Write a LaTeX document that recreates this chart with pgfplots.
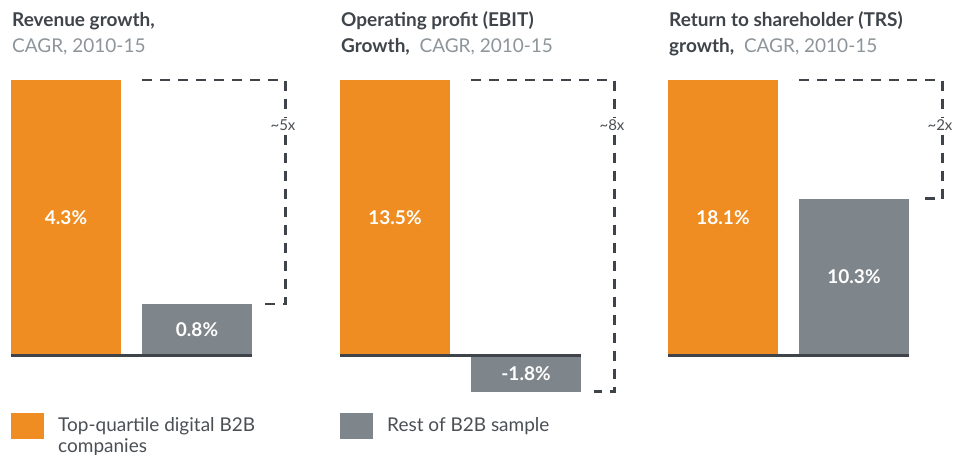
\documentclass[border=0pt]{standalone}
\usepackage{fontspec}
\setmainfont{Lato}
\usepackage{pgfplots}
\pgfplotsset{compat=1.18}
\definecolor{bOrange}{HTML}{F08D22}
\definecolor{bGray}{HTML}{7F868B}
\definecolor{bDark}{HTML}{3E4449}
\definecolor{bSub}{HTML}{8D959A}
\definecolor{bText}{HTML}{4A4F54}
\newcommand\tfont{\fontsize{19}{25}\selectfont}
\newcommand\lfont{\fontsize{19}{19}\selectfont\bfseries}
\newcommand\mfont{\fontsize{15}{15}\selectfont}
\pgfplotsset{
  panel/.style={x=1pt, xmin=0, xmax=300, hide axis, clip=false, anchor=origin,
    legend image code/.code={\fill[##1] (0pt,-7pt) rectangle (33pt,19pt);},
    legend style={draw=none, fill=none, inner sep=0pt, anchor=north west,
      font=\tfont, text=bText, legend cell align=left}},
  obar/.style={ybar, bar width=110, bar shift=0pt, fill=bOrange, draw=none},
  gbar/.style={ybar, bar width=110, bar shift=0pt, fill=bGray, draw=none},
  bracket/.style={sharp plot, draw=bDark, line width=2.4pt, dash pattern=on 10pt off 8pt, mark=none, forget plot},
}
\begin{document}
\begin{tikzpicture}
\path[use as bounding box] (0,0) rectangle (956pt,-455pt);
% Panel 1
\begin{axis}[panel, at={(0pt,-355pt)}, y={275pt/4.3}, ymin=-0.8, ymax=4.6,
  legend style={at={(axis cs:11,-0.907)}}]
\addplot[obar] coordinates {(66,4.3)};
\addlegendentry{\hspace*{12pt}\smash{\rlap{\raisebox{-21pt}{companies}}Top-quartile digital B2B}}
\addplot[gbar, forget plot] coordinates {(197,0.8)};
\addplot[bracket] coordinates {(142,4.3) (285.5,4.3) (285.5,0.8) (265,0.8)};
\draw[bDark, line width=3pt] (axis cs:11,0) -- (axis cs:252,0);
\node[text=white, font=\lfont] at (axis cs:66,2.15) {4.3\%};
\node[text=white, font=\lfont] at (axis cs:197,0.4) {0.8\%};
\node[fill=white, inner sep=1.5pt, text=bText, font=\mfont] at (axis cs:283,3.596) {\textasciitilde 5x};
\end{axis}
% Panel 2
\begin{axis}[panel, at={(329pt,-355pt)}, y={275pt/13.5}, ymin=-2.6, ymax=14.5,
  legend style={at={(axis cs:11,-2.85)}}]
\addplot[obar, forget plot] coordinates {(66,13.5)};
\addplot[gbar] coordinates {(197,-1.8)};
\addlegendentry{\hspace*{12pt}\smash{Rest of B2B sample}}
\addplot[bracket] coordinates {(142,13.5) (285.5,13.5) (285.5,-1.8) (265,-1.8)};
\draw[bDark, line width=3pt] (axis cs:11,0) -- (axis cs:252,0);
\node[text=white, font=\lfont] at (axis cs:66,6.75) {13.5\%};
\node[text=white, font=\lfont] at (axis cs:197,-0.9) {-1.8\%};
\node[fill=white, inner sep=1.5pt, text=bText, font=\mfont] at (axis cs:283,11.29) {\textasciitilde 8x};
\end{axis}
% Panel 3
\begin{axis}[panel, at={(657pt,-355pt)}, y={275pt/18.1}, ymin=-3, ymax=19.5]
\addplot[obar, forget plot] coordinates {(66,18.1)};
\addplot[gbar, forget plot] coordinates {(197,10.3)};
\addplot[bracket] coordinates {(142,18.1) (285.5,18.1) (285.5,10.3) (265,10.3)};
\draw[bDark, line width=3pt] (axis cs:11,0) -- (axis cs:252,0);
\node[text=white, font=\lfont] at (axis cs:66,9.05) {18.1\%};
\node[text=white, font=\lfont] at (axis cs:197,5.15) {10.3\%};
\node[fill=white, inner sep=1.5pt, text=bText, font=\mfont] at (axis cs:283,15.14) {\textasciitilde 2x};
\end{axis}
% Titles
\begin{scope}[every node/.style={anchor=base west, inner sep=0pt, font=\tfont}]
\node[text=bDark] at (12pt,-27pt) {\bfseries Revenue growth,};
\node[text=bSub] at (12pt,-52pt) {CAGR, 2010-15};
\node[text=bDark] at (341pt,-27pt) {\bfseries Operating profit (EBIT)};
\node at (341pt,-52pt) {\textcolor{bDark}{\bfseries Growth,}\ \ \textcolor{bSub}{CAGR, 2010-15}};
\node[text=bDark] at (669pt,-27pt) {\bfseries Return to shareholder (TRS)};
\node at (669pt,-52pt) {\textcolor{bDark}{\bfseries growth,}\ \ \textcolor{bSub}{CAGR, 2010-15}};
\end{scope}
\end{tikzpicture}
\end{document}
